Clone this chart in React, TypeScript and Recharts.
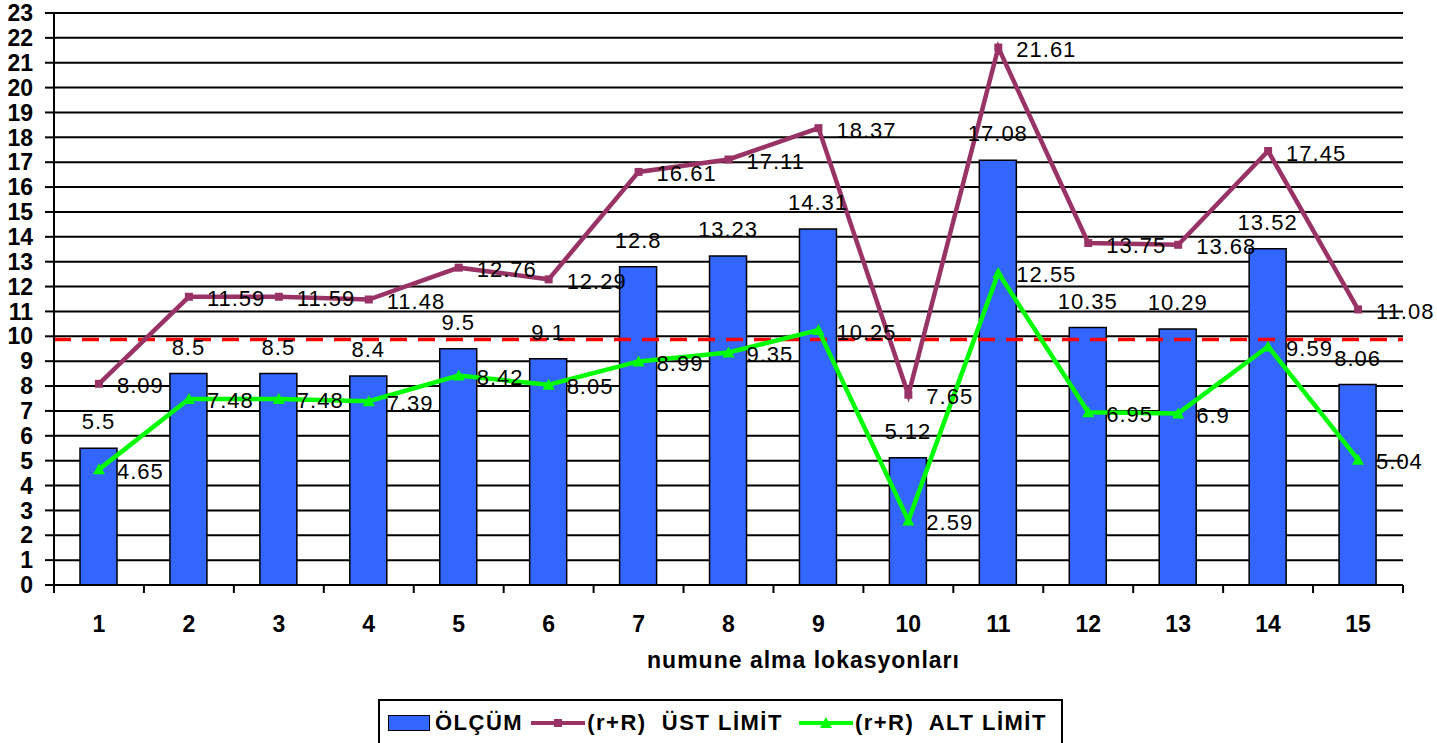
import React from 'react';
import {
  ComposedChart, Bar, Line, XAxis, YAxis, CartesianGrid, ReferenceLine, LabelList, Legend,
} from 'recharts';

const LOCATIONS = ['1', '2', '3', '4', '5', '6', '7', '8', '9', '10', '11', '12', '13', '14', '15'];
const OLCUM = [5.5, 8.5, 8.5, 8.4, 9.5, 9.1, 12.8, 13.23, 14.31, 5.12, 17.08, 10.35, 10.29, 13.52, 8.06];
const UST_LIMIT = [8.09, 11.59, 11.59, 11.48, 12.76, 12.29, 16.61, 17.11, 18.37, 7.65, 21.61, 13.75, 13.68, 17.45, 11.08];
const ALT_LIMIT = [4.65, 7.48, 7.48, 7.39, 8.42, 8.05, 8.99, 9.35, 10.25, 2.59, 12.55, 6.95, 6.9, 9.59, 5.04];
const Y_TICKS = Array.from({ length: 24 }, (_, i) => i);
const THRESHOLD = 9.87;
const X_TITLE = 'numune alma lokasyonları';
const NAMES = { olcum: 'ÖLÇÜM', ust: '(r+R)  ÜST LİMİT', alt: '(r+R)  ALT LİMİT' };

const data = LOCATIONS.map((loc, i) => ({
  loc,
  olcum: OLCUM[i],
  ust: UST_LIMIT[i],
  alt: ALT_LIMIT[i],
}));

const W = 1437;
const H = 743;
const MARGIN = { top: 13, right: 34, left: 0, bottom: 0 };
const Y_W = 54;
const PLOT_W = W - MARGIN.left - MARGIN.right - Y_W;
const FONT = '"Liberation Sans", Arial, sans-serif';
const BLUE = '#3366FF';
const MAROON = '#993366';
const GREEN = '#00FF00';

const XTick = (props: any) => {
  const { x, y, payload } = props;
  const bw = PLOT_W / LOCATIONS.length;
  const isLast = payload.value === LOCATIONS[LOCATIONS.length - 1];
  return (
    <g>
      <line x1={x - bw / 2} x2={x - bw / 2} y1={y - 8} y2={y} stroke="#000" strokeWidth={2} />
      {isLast && <line x1={x + bw / 2} x2={x + bw / 2} y1={y - 8} y2={y} stroke="#000" strokeWidth={2} />}
      <text x={x} y={y + 39} textAnchor="middle" fontSize={23} fontWeight="bold" fill="#000" fontFamily={FONT}>
        {payload.value}
      </text>
    </g>
  );
};

const XTitle = (props: any) => {
  const vb = props.viewBox || {};
  return (
    <text
      x={vb.x + vb.width / 2 + 75}
      y={vb.y + 83}
      textAnchor="middle"
      fontSize={23}
      fontWeight="bold"
      letterSpacing={1}
      fill="#000"
      fontFamily={FONT}
    >
      {X_TITLE}
    </text>
  );
};

const lineLabel = (props: any) => {
  const { x, y, value } = props;
  return (
    <text x={x + 18} y={y + 2} dominantBaseline="central" fontSize={22} letterSpacing={1} fill="#000" fontFamily={FONT}>
      {value}
    </text>
  );
};

const barLabel = (props: any) => {
  const { x, y, width, value } = props;
  return (
    <text x={x + width / 2} y={y - 19} textAnchor="middle" fontSize={22} letterSpacing={1} fill="#000" fontFamily={FONT}>
      {value}
    </text>
  );
};

const SquareDot = (props: any) => {
  const { cx, cy } = props;
  if (cx == null || cy == null) return null;
  return <rect x={cx - 4} y={cy - 4} width={8} height={8} fill={MAROON} />;
};

const TriDot = (props: any) => {
  const { cx, cy } = props;
  if (cx == null || cy == null) return null;
  return <polygon points={`${cx},${cy - 6} ${cx - 6},${cy + 5} ${cx + 6},${cy + 5}`} fill={GREEN} />;
};

const LegendContent = () => {
  const txt: React.CSSProperties = {
    fontFamily: FONT,
    fontSize: 22,
    fontWeight: 'bold',
    letterSpacing: 1.5,
    color: '#000',
    whiteSpace: 'pre',
  };
  const lineIcon = (color: string, marker: 'sq' | 'tri') => (
    <svg width={54} height={16} style={{ marginRight: 2 }}>
      <line x1={0} x2={54} y1={8} y2={8} stroke={color} strokeWidth={4} />
      {marker === 'sq' ? (
        <rect x={23} y={4} width={8} height={8} fill={color} />
      ) : (
        <polygon points="27,2 21,13 33,13" fill={color} />
      )}
    </svg>
  );
  return (
    <div
      style={{
        boxSizing: 'border-box',
        height: 44,
        width: 685,
        borderTop: '2px solid #000',
        borderLeft: '2px solid #000',
        borderRight: '2px solid #000',
        display: 'flex',
        alignItems: 'center',
        paddingLeft: 8,
        paddingTop: 2,
      }}
    >
      <div style={{ width: 40, height: 14, background: BLUE, border: '1.5px solid #000', marginRight: 5 }} />
      <span style={{ ...txt, marginRight: 8 }}>{NAMES.olcum}</span>
      {lineIcon(MAROON, 'sq')}
      <span style={{ ...txt, marginRight: 16 }}>{NAMES.ust}</span>
      {lineIcon(GREEN, 'tri')}
      <span style={txt}>{NAMES.alt}</span>
    </div>
  );
};

export default function App() {
  return (
    <div style={{ position: 'absolute', left: 0, top: 0, width: W, height: H, background: '#fff' }}>
      <ComposedChart width={W} height={H} data={data} margin={MARGIN}>
        <CartesianGrid vertical={false} stroke="#000" strokeWidth={2} />
        <XAxis
          dataKey="loc"
          height={114}
          tickLine={false}
          tickSize={8}
          tickMargin={0}
          axisLine={{ stroke: '#000', strokeWidth: 2 }}
          tick={<XTick />}
          interval={0}
          label={<XTitle />}
        />
        <YAxis
          width={Y_W}
          domain={[0, 23]}
          ticks={Y_TICKS}
          interval={0}
          tickSize={9}
          tickMargin={12}
          tickLine={{ stroke: '#000', strokeWidth: 2 }}
          axisLine={{ stroke: '#000', strokeWidth: 2 }}
          tick={{ fontSize: 23, fontWeight: 'bold', fill: '#000', fontFamily: FONT }}
        />
        <Legend content={<LegendContent />} wrapperStyle={{ left: 378, width: 685, bottom: 0 }} />
        <Bar dataKey="olcum" name={NAMES.olcum} fill={BLUE} stroke="#000" strokeWidth={1.5} barSize={37} isAnimationActive={false}>
          <LabelList dataKey="olcum" content={barLabel} />
        </Bar>
        <ReferenceLine y={THRESHOLD} stroke="#FF0000" strokeWidth={3.5} strokeDasharray="17 11" />
        <Line
          dataKey="ust"
          name={NAMES.ust}
          stroke={MAROON}
          strokeWidth={4.5}
          dot={<SquareDot />}
          activeDot={false}
          isAnimationActive={false}
        >
          <LabelList dataKey="ust" content={lineLabel} />
        </Line>
        <Line
          dataKey="alt"
          name={NAMES.alt}
          stroke={GREEN}
          strokeWidth={4.5}
          dot={<TriDot />}
          activeDot={false}
          isAnimationActive={false}
        >
          <LabelList dataKey="alt" content={lineLabel} />
        </Line>
      </ComposedChart>
    </div>
  );
}
